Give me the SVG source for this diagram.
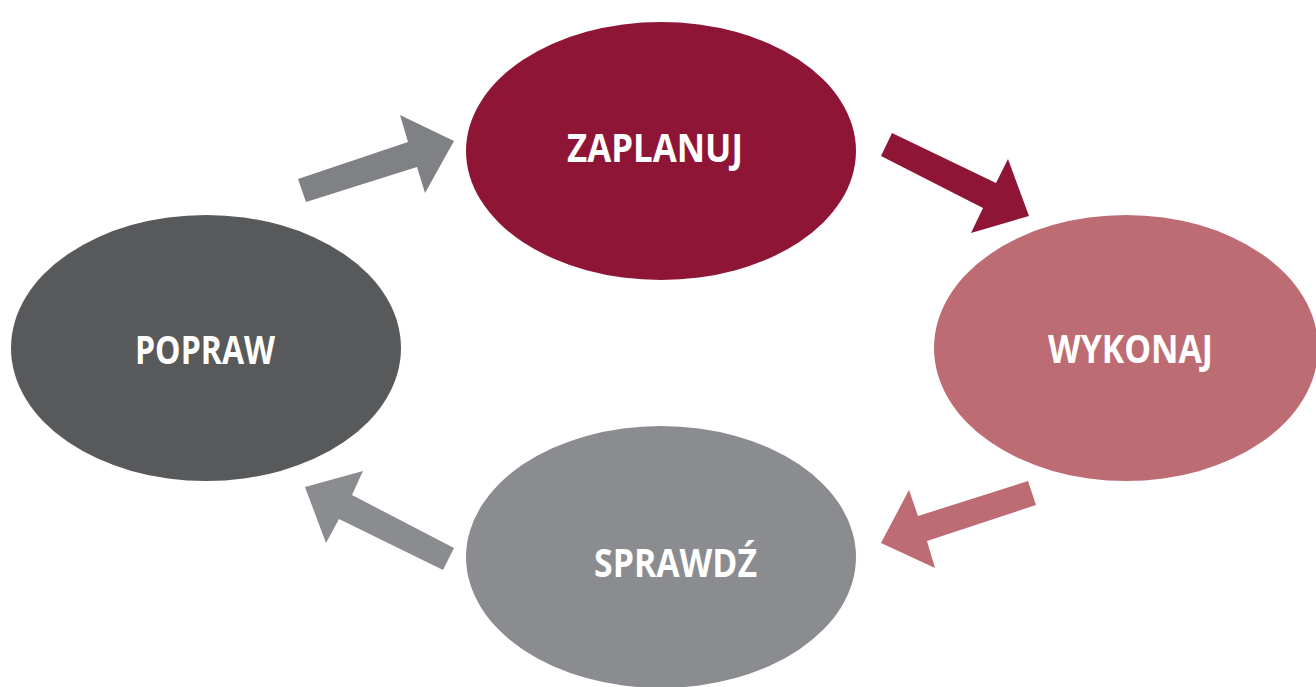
<svg xmlns="http://www.w3.org/2000/svg" width="1316" height="687" viewBox="0 0 1316 687">
<style>
.lbl{font-family:"Open Sans","Liberation Sans",sans-serif;font-weight:700;font-size:39px;fill:#ffffff}
</style>
<rect width="1316" height="687" fill="#ffffff"/>
<g id="connectors">
<polygon fill="#808184" points="298,179 306,202 417,167 425,193 454,141 400,115 408,142"/>
<polygon fill="#8f1536" points="892,133 881,156 983,208 971,233 1029,216 1008,159 996,183"/>
<polygon fill="#bd6c74" points="1028,481 1036,505 927,541 935,568 881,543 909,490 918,516"/>
<polygon fill="#8b8c90" points="454,548 443,570 339,519 326,543 305,487 363,471 352,495"/>
</g>
<g id="zaplanuj">
<ellipse cx="661" cy="151" rx="195" ry="129" fill="#8f1536"/>
<text class="lbl" x="567" y="162" textLength="176" lengthAdjust="spacingAndGlyphs">ZAPLANUJ</text>
</g>
<g id="wykonaj">
<ellipse cx="1126" cy="348" rx="192" ry="133" fill="#bd6c74"/>
<text class="lbl" x="1048" y="363" textLength="165" lengthAdjust="spacingAndGlyphs">WYKONAJ</text>
</g>
<g id="sprawdz">
<ellipse cx="661" cy="557" rx="195" ry="131" fill="#8b8c90"/>
<text class="lbl" x="594" y="577" textLength="163" lengthAdjust="spacingAndGlyphs">SPRAWDŹ</text>
</g>
<g id="popraw">
<ellipse cx="206" cy="348" rx="195" ry="133" fill="#58595b"/>
<text class="lbl" x="135" y="364" textLength="140" lengthAdjust="spacingAndGlyphs">POPRAW</text>
</g>
</svg>
